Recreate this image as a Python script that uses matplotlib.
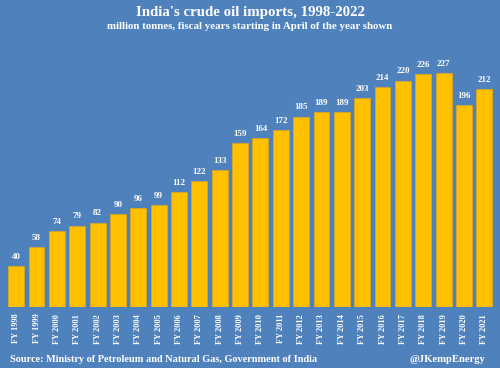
import matplotlib.pyplot as plt

years = ['FY %d' % y for y in range(1998, 2022)]
imports = [40, 58, 74, 79, 82, 90, 96, 99, 112, 122, 133, 159,
           164, 172, 185, 189, 189, 203, 214, 220, 226, 227, 196, 212]

bg = '#4f81bd'
plt.rcParams['font.family'] = ['Liberation Serif', 'DejaVu Serif']
plt.rcParams['font.weight'] = 'bold'

fig = plt.figure(figsize=(5, 3.68), dpi=100, facecolor=bg)
ax = fig.add_axes([0.008, 0.166, 0.985, 0.671], facecolor=bg)

x = range(len(imports))
bars = ax.bar(x, imports, width=0.78, color='#ffc000', edgecolor='#d9a520', linewidth=0.6)
for xi, v in zip(x, imports):
    ax.text(xi, v + 5, str(v), ha='center', va='bottom', color='white',
            fontsize=6.5, fontweight='bold')

ax.set_xlim(-0.6, len(imports) - 0.4)
ax.set_ylim(0, 240)
ax.set_xticks(list(x))
ax.set_xticklabels(years, rotation=90, color='white', fontsize=6, fontweight='bold')
ax.tick_params(axis='x', length=0, pad=5)
ax.set_yticks([])
for s in ax.spines.values():
    s.set_visible(False)

fig.text(0.5, 0.966, "India's crude oil imports, 1998-2022", ha='center', va='center',
         color='white', fontsize=10.7, fontweight='bold')
fig.text(0.5, 0.928, 'million tonnes, fiscal years starting in April of the year shown',
         ha='center', va='center', color='white', fontsize=7.8, fontweight='bold')
fig.text(0.02, 0.022, 'Source: Ministry of Petroleum and Natural Gas, Government of India',
         ha='left', va='center', color='white', fontsize=7.4, fontweight='bold')
fig.text(0.97, 0.022, '@JKempEnergy', ha='right', va='center', color='white',
         fontsize=7.7, fontweight='bold')

fig.savefig('out.png', dpi=100, facecolor=bg)
